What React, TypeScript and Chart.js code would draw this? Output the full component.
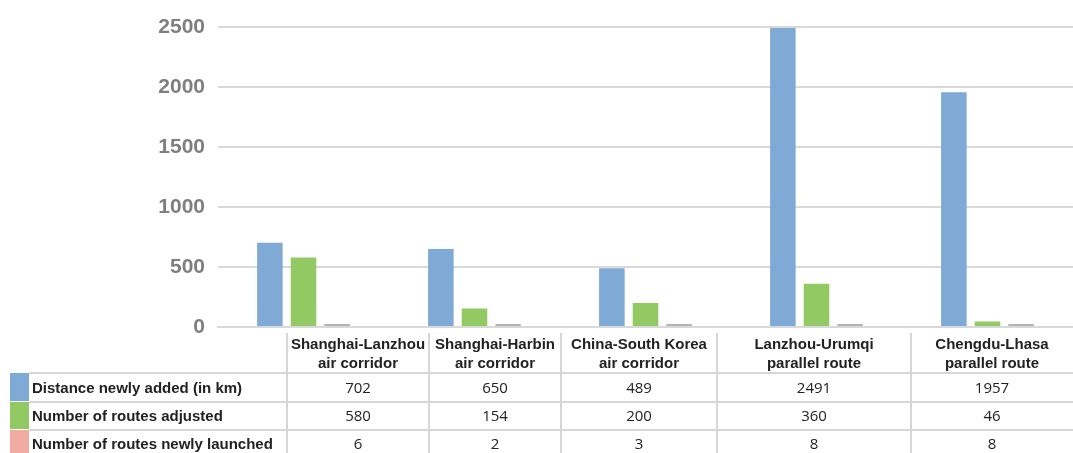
import React, { useEffect, useRef } from "react";
import { Chart, registerables } from "chart.js";

Chart.register(...registerables);

const categories: string[][] = [
  ["Shanghai-Lanzhou", "air corridor"],
  ["Shanghai-Harbin", "air corridor"],
  ["China-South Korea", "air corridor"],
  ["Lanzhou-Urumqi", "parallel route"],
  ["Chengdu-Lhasa", "parallel route"],
];
const seriesNames = [
  "Distance newly added (in km)",
  "Number of routes adjusted",
  "Number of routes newly launched",
];
const distanceAdded = [702, 650, 489, 2491, 1957];
const routesAdjusted = [580, 154, 200, 360, 46];
const routesLaunched = [6, 2, 3, 8, 8];
const yTicks = [0, 500, 1000, 1500, 2000, 2500];

const barColors = ["#80aad6", "#92c963", "#b3b3b3"];
const keyColors = ["#80aad6", "#92c963", "#f2aba3"];

// table layout (style constants)
const colEdges = [287, 429, 561, 717, 911, 1073];
const rowEdges = [373, 402, 430, 458];

const tablePlugin = {
  id: "dataTable",
  afterDraw(chart: any) {
    const ctx: CanvasRenderingContext2D = chart.ctx;
    const W = chart.width;
    const series = [distanceAdded, routesAdjusted, routesLaunched];
    ctx.save();
    ctx.strokeStyle = "#d6d6d6";
    ctx.lineWidth = 2;
    for (let i = 0; i < rowEdges.length - 1; i++) {
      ctx.beginPath();
      ctx.moveTo(29, rowEdges[i]);
      ctx.lineTo(W, rowEdges[i]);
      ctx.stroke();
    }
    for (let i = 0; i < colEdges.length - 1; i++) {
      ctx.beginPath();
      ctx.moveTo(colEdges[i], 333);
      ctx.lineTo(colEdges[i], 453);
      ctx.stroke();
    }
    for (let r = 0; r < 3; r++) {
      ctx.fillStyle = keyColors[r];
      ctx.fillRect(10, rowEdges[r], 19, rowEdges[r + 1] - rowEdges[r] - 1);
    }
    ctx.fillStyle = "#222222";
    ctx.textAlign = "center";
    ctx.textBaseline = "middle";
    ctx.font = "bold 15px 'Liberation Sans', Arial, sans-serif";
    categories.forEach((lines, i) => {
      const cx = (colEdges[i] + colEdges[i + 1]) / 2;
      lines.forEach((ln, j) => ctx.fillText(ln, cx, 345 + j * 19));
    });
    ctx.textAlign = "left";
    seriesNames.forEach((name, r) => {
      ctx.fillText(name, 32, (rowEdges[r] + rowEdges[r + 1]) / 2 + 1);
    });
    ctx.textAlign = "center";
    ctx.font = "15px 'Open Sans', 'Noto Sans', sans-serif";
    series.forEach((vals, r) => {
      vals.forEach((v, i) => {
        const cx = (colEdges[i] + colEdges[i + 1]) / 2;
        ctx.fillText(String(v), cx, (rowEdges[r] + rowEdges[r + 1]) / 2 + 1);
      });
    });
    ctx.restore();
  },
};

export default function App() {
  const ref = useRef<HTMLCanvasElement>(null);
  useEffect(() => {
    document.body.style.margin = "0";
    const chart = new Chart(ref.current!, {
      type: "bar",
      data: {
        labels: categories.map((c) => c.join(" ")),
        datasets: [distanceAdded, routesAdjusted, routesLaunched].map((d, i) => ({
          label: seriesNames[i],
          data: d,
          backgroundColor: barColors[i],
          borderWidth: 0,
          minBarLength: i === 2 ? 3 : 0,
          categoryPercentage: 0.59,
          barPercentage: 0.76,
        })),
      },
      options: {
        responsive: false,
        animation: false,
        layout: { padding: { top: 27, right: 0, left: 0, bottom: 0 } },
        plugins: { legend: { display: false }, tooltip: { enabled: false } },
        scales: {
          x: {
            grid: { display: false, drawTicks: false },
            border: { display: true, color: "#d9d9d9", width: 2 },
            ticks: { display: false },
            afterFit: (s: any) => {
              s.height = 126;
            },
          },
          y: {
            min: 0,
            max: 2500,
            afterBuildTicks: (s: any) => {
              s.ticks = yTicks.map((v) => ({ value: v }));
            },
            grid: { color: "#d9d9d9", lineWidth: 2, drawTicks: false },
            border: { display: false },
            ticks: {
              padding: 13,
              color: "#7f7f7f",
              font: { family: "'Liberation Sans', Arial, sans-serif", size: 21, weight: "bold" },
              callback: (v: any) => String(v),
            },
            afterFit: (s: any) => {
              s.width = 218;
            },
          },
        },
      },
      plugins: [tablePlugin],
    });
    return () => chart.destroy();
  }, []);
  return <canvas ref={ref} width={1073} height={453} style={{ display: "block" }} />;
}
